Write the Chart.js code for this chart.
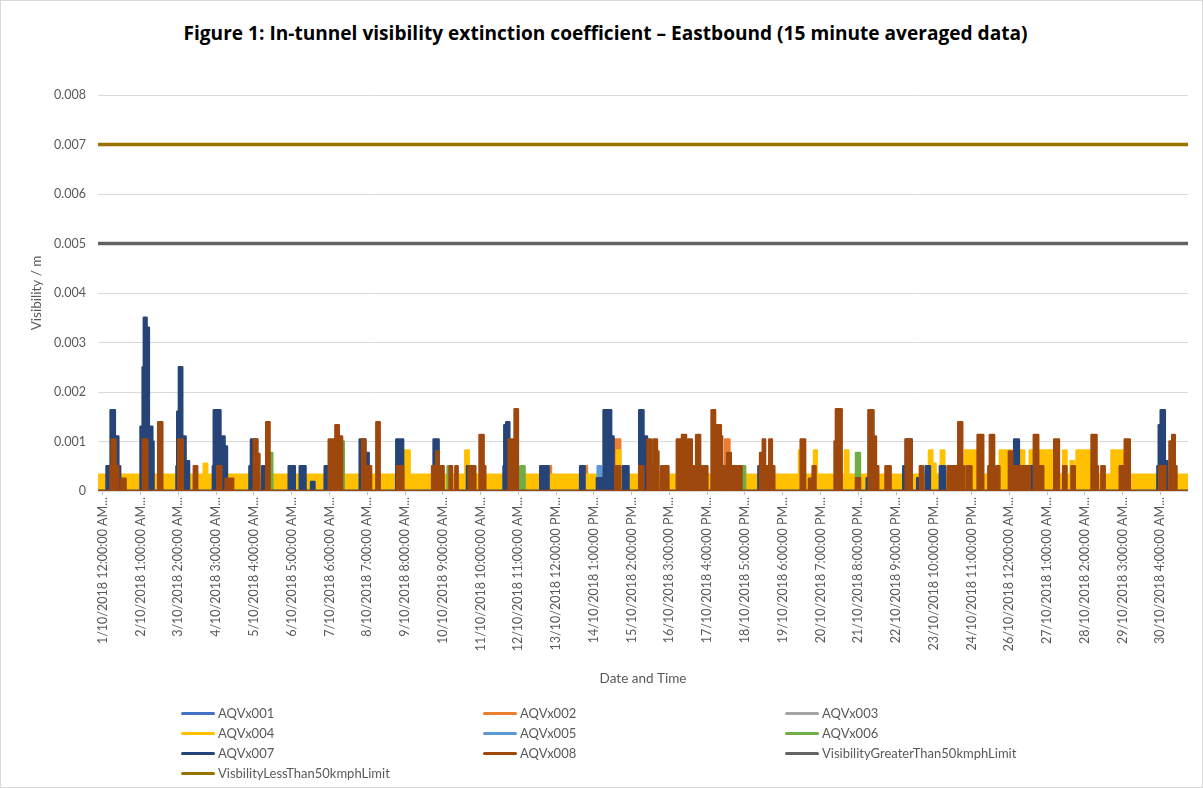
<!DOCTYPE html>
<html>
<head>
<meta charset="utf-8">
<title>In-tunnel visibility extinction coefficient - Eastbound</title>
<script src="https://cdn.jsdelivr.net/npm/chart.js@4.4.0/dist/chart.umd.min.js"></script>
<style>
  html, body { margin: 0; padding: 0; background: #fff; }
  .wrap { position: relative; width: 1203px; height: 788px; box-sizing: border-box; border: 1px solid #D9D9D9; }
  .wrap canvas { position: absolute; left: 0; top: 0; }
  .title { position: absolute; left: 8px; right: 0; top: 19px; text-align: center;
    font: bold 19.1px "Open Sans", Lato, sans-serif; color: #000; }
  .legend { position: absolute; left: 180px; top: 702px; display: grid;
    grid-template-columns: 302px 302px 302px; grid-auto-rows: 20px;
    font: 13px Lato, "Open Sans", sans-serif; color: #595959; }
  .legend div { display: flex; align-items: center; }
  .legend span.swatch { display: inline-block; width: 34px; height: 3px; border-radius: 2px; margin-right: 3px; }
</style>
</head>
<body>
<div class="wrap">
  <div class="title">Figure 1: In-tunnel visibility extinction coefficient – Eastbound (15 minute averaged data)</div>
  <canvas id="chart"></canvas>
  <div class="legend" id="legend"></div>
</div>
<script>
// x values are hours since 1/10/2018 12:00 AM, y values are extinction coefficient (1/m)
const xStart = -3.25;
const xEnd = 718.25;

const tickHours = [0, 25, 50, 75, 100, 125, 150, 175, 200, 225, 250, 275, 300, 325, 350,
  375, 400, 425, 450, 475, 500, 525, 550, 575, 600, 625, 650, 675, 700];
const tickLabels = [
  "1/10/2018 12:00:00 AM...", "2/10/2018 1:00:00 AM...", "3/10/2018 2:00:00 AM...",
  "4/10/2018 3:00:00 AM...", "5/10/2018 4:00:00 AM...", "6/10/2018 5:00:00 AM...",
  "7/10/2018 6:00:00 AM...", "8/10/2018 7:00:00 AM...", "9/10/2018 8:00:00 AM...",
  "10/10/2018 9:00:00 AM...", "11/10/2018 10:00:00 AM...", "12/10/2018 11:00:00 AM...",
  "13/10/2018 12:00:00 PM...", "14/10/2018 1:00:00 PM...", "15/10/2018 2:00:00 PM...",
  "16/10/2018 3:00:00 PM...", "17/10/2018 4:00:00 PM...", "18/10/2018 5:00:00 PM...",
  "19/10/2018 6:00:00 PM...", "20/10/2018 7:00:00 PM...", "21/10/2018 8:00:00 PM...",
  "22/10/2018 9:00:00 PM...", "23/10/2018 10:00:00 PM...", "24/10/2018 11:00:00 PM...",
  "26/10/2018 12:00:00 AM...", "27/10/2018 1:00:00 AM...", "28/10/2018 2:00:00 AM...",
  "29/10/2018 3:00:00 AM...", "30/10/2018 4:00:00 AM..."
];
const yTicks = [0, 0.001, 0.002, 0.003, 0.004, 0.005, 0.006, 0.007, 0.008];
const yTickLabels = ["0", "0.001", "0.002", "0.003", "0.004", "0.005", "0.006", "0.007", "0.008"];

// [hour, value] - each value holds until the next listed hour
const aqvx001 = [[-3.25, 0], [718.25, 0]];
const aqvx002 = [[-3.25, 0], [295.0, 0.0005], [296.6, 0], [318.8, 0.0005], [320.4, 0],
  [338.7, 0.00104], [342.4, 0], [396.4, 0.0005], [397.5, 0], [411.9, 0.00104], [414.7, 0], [718.25, 0]];
const aqvx003 = [[-3.25, 0], [718.25, 0]];
const aqvx004 = [
  [-3.25, 0.00033], [66.8, 0.00055], [69.0, 0.00033],
  [198.7, 0.00082], [203.0, 0.00033], [239.9, 0.00082], [242.1, 0.00033],
  [340.2, 0.00082], [342.4, 0.00033], [460.8, 0.00082], [462.6, 0.00033],
  [470.7, 0.00082], [472.5, 0.00033], [491.2, 0.00082], [493.4, 0.00033],
  [546.8, 0.00082], [549.0, 0.00055], [551.2, 0.00033], [554.7, 0.00082], [556.9, 0.00033],
  [570.6, 0.00082], [578.3, 0.00033], [593.7, 0.00082], [601.5, 0.00033],
  [607.4, 0.00082], [609.8, 0.00033], [613.5, 0.00082], [629.0, 0.00033],
  [635.6, 0.00082], [637.8, 0.00033], [640.5, 0.0006], [642.7, 0.00033],
  [644.5, 0.00082], [654.4, 0.00033], [667.6, 0.00082], [673.1, 0.00033],
  [674.2, 0.00082], [676.0, 0.00033], [718.25, 0.00033]
];
const aqvx005 = [[-3.25, 0], [327.5, 0.0005], [329.8, 0], [718.25, 0]];
const aqvx006 = [[-3.25, 0], [110.3, 0.00077], [112.1, 0], [158.3, 0.001], [159.4, 0],
  [228.2, 0.0005], [229.5, 0], [276.3, 0.0005], [279.1, 0], [422.9, 0.0005], [425.1, 0],
  [498.5, 0.00077], [501.1, 0], [718.25, 0]];
const aqvx007 = [
  [-3.25, 0], [2.4, 0.0005], [5.1, 0.00163], [7.9, 0.0011], [10.2, 0.0005], [11.4, 0],
  [24.9, 0.0013], [26.3, 0.0025], [27.1, 0.0035], [28.9, 0.0033], [30.4, 0.0013], [32.7, 0.001], [33.5, 0],
  [48.7, 0.0005], [49.2, 0.0016], [50.3, 0.0025], [52.5, 0.0011], [54.7, 0.0006], [57.0, 0],
  [72.8, 0.0005], [73.4, 0.00163], [77.8, 0.0011], [80.5, 0.0009], [82.1, 0],
  [97.0, 0.0005], [98.0, 0.00104], [102.1, 0], [105.4, 0.0005], [107.6, 0],
  [123.0, 0.0005], [127.0, 0], [130.3, 0.0005], [134.1, 0], [137.8, 0.00018], [140.0, 0],
  [146.8, 0.0005], [149.1, 0], [170.0, 0.00104], [173.7, 0.00077], [175.9, 0],
  [194.2, 0.00104], [198.7, 0], [218.9, 0.00104], [222.2, 0.0005], [223.3, 0],
  [241.0, 0.0005], [244.3, 0],
  [265.2, 0.0005], [265.7, 0.00133], [267.0, 0.00139], [269.0, 0.001], [269.6, 0],
  [289.5, 0.0005], [295.0, 0], [315.9, 0.0005], [318.8, 0],
  [327.0, 0.00026], [331.4, 0.00163], [336.4, 0.0011], [338.0, 0],
  [344.2, 0.0005], [347.9, 0], [355.0, 0.00163], [357.8, 0.0011], [360.1, 0],
  [433.9, 0.0005], [435.3, 0], [505.6, 0.00026], [506.9, 0.00163], [509.9, 0],
  [529.8, 0.0005], [531.4, 0.00104], [535.3, 0], [539.0, 0.00026], [540.8, 0],
  [544.6, 0.0005], [547.4, 0], [554.0, 0.0005], [557.3, 0],
  [603.2, 0.00104], [606.3, 0], [612.4, 0.0005], [615.8, 0],
  [698.0, 0.0005], [698.9, 0.00133], [700.2, 0.00163], [702.9, 0.0006], [704.6, 0],
  [718.25, 0]
];
const aqvx008 = [
  [-3.25, 0], [5.1, 0.0005], [5.8, 0.00104], [8.4, 0.0005], [10.2, 0],
  [12.2, 0.00025], [15.0, 0], [26.5, 0.00104], [29.4, 0], [36.6, 0.00139], [39.3, 0],
  [49.9, 0.00104], [52.9, 0], [60.2, 0.0005], [62.4, 0], [75.7, 0.0005], [78.3, 0],
  [81.2, 0.00025], [83.3, 0], [84.0, 0.00025], [86.2, 0],
  [99.9, 0.00104], [102.1, 0.00075], [103.6, 0], [108.1, 0.00139], [110.3, 0],
  [149.5, 0.00104], [152.8, 0.0005], [153.9, 0.00133], [156.1, 0.0011], [158.3, 0],
  [171.6, 0.00104], [173.7, 0.0005], [177.5, 0], [181.0, 0.00139], [183.2, 0],
  [194.8, 0.0005], [198.7, 0],
  [217.9, 0.0005], [220.7, 0.0008], [222.2, 0.0005], [225.5, 0],
  [229.5, 0.0005], [231.1, 0], [233.3, 0.0005], [234.8, 0], [242.1, 0.0005], [246.5, 0],
  [249.3, 0.00113], [252.0, 0.0005], [253.1, 0],
  [268.5, 0.00104], [272.5, 0.00165], [274.7, 0],
  [339.1, 0.0005], [342.4, 0],
  [355.0, 0.0005], [357.8, 0], [360.5, 0.00104], [362.7, 0.0005], [364.4, 0.00104], [366.7, 0.0008], [367.7, 0],
  [369.5, 0.0005], [374.3, 0],
  [379.9, 0.00104], [382.4, 0.0005], [383.3, 0.00113], [386.0, 0.0005], [387.6, 0.00104], [389.8, 0.0005],
  [391.4, 0], [392.7, 0.00113], [395.3, 0.0005], [396.4, 0], [397.9, 0.0005], [400.1, 0],
  [402.9, 0.00163], [405.2, 0.0011], [406.2, 0.00133], [409.0, 0.0011], [409.9, 0.0005],
  [413.2, 0.00077], [415.6, 0.0005], [422.7, 0],
  [435.0, 0.00077], [436.8, 0.00104], [438.3, 0.0005], [441.1, 0.00104], [442.8, 0.0005], [444.4, 0],
  [461.9, 0.00104], [464.8, 0], [467.4, 0.00025], [469.8, 0.0005], [471.7, 0],
  [484.3, 0.001], [485.2, 0.00165], [489.0, 0], [498.5, 0.00026], [501.1, 0],
  [506.9, 0.00163], [509.9, 0.0011], [511.7, 0.0005], [513.2, 0],
  [518.0, 0.0005], [521.4, 0], [531.4, 0.00104], [535.3, 0], [540.8, 0.0005], [542.8, 0],
  [559.1, 0.0005], [566.2, 0.00139], [568.8, 0.0005], [569.9, 0],
  [571.7, 0.0005], [574.9, 0], [579.0, 0.00113], [582.7, 0],
  [586.1, 0.0005], [587.1, 0.00113], [589.9, 0], [591.5, 0.0005], [593.4, 0],
  [599.7, 0.0008], [601.9, 0.0005], [613.5, 0],
  [616.2, 0.00113], [619.1, 0], [620.2, 0.0005], [622.4, 0],
  [629.7, 0.00104], [632.8, 0], [635.6, 0.0005], [637.8, 0], [641.1, 0.0005], [643.3, 0],
  [654.4, 0.00113], [657.7, 0.0005], [658.6, 0], [660.9, 0.0005], [663.1, 0],
  [673.1, 0.0005], [676.4, 0.00104], [679.7, 0],
  [699.2, 0.0005], [703.3, 0],
  [706.0, 0.001], [707.8, 0.00113], [709.5, 0.0005], [710.6, 0],
  [718.25, 0]
];
const greaterThan50Limit = [[-3.25, 0.005], [718.25, 0.005]];
const lessThan50Limit = [[-3.25, 0.007], [718.25, 0.007]];

const seriesNames = ["AQVx001", "AQVx002", "AQVx003", "AQVx004", "AQVx005", "AQVx006",
  "AQVx007", "AQVx008", "VisibilityGreaterThan50kmphLimit", "VisbilityLessThan50kmphLimit"];
const seriesData = [aqvx001, aqvx002, aqvx003, aqvx004, aqvx005, aqvx006,
  aqvx007, aqvx008, greaterThan50Limit, lessThan50Limit];
const seriesColors = ["#4472C4", "#ED7D31", "#A5A5A5", "#FFC000", "#5B9BD5", "#70AD47",
  "#264478", "#9E480E", "#636363", "#997300"];

Chart.defaults.font.family = 'Lato, "Open Sans", sans-serif';
Chart.defaults.color = '#595959';

function makeDataset(i) {
  const isLimit = i >= 8;
  return {
    label: seriesNames[i],
    data: seriesData[i].map(p => ({ x: p[0], y: p[1] })),
    borderColor: seriesColors[i],
    backgroundColor: seriesColors[i],
    borderWidth: isLimit ? 3.5 : 2.5,
    borderJoinStyle: 'round',
    borderCapStyle: 'round',
    stepped: isLimit ? false : 'before',
    fill: isLimit ? false : 'origin',
    pointRadius: 0,
    // later series sit on top, like the original
    order: 10 - i
  };
}

const datasets = [];
for (let i = 0; i < seriesNames.length; i++) {
  datasets.push(makeDataset(i));
}

const chart = new Chart(document.getElementById('chart'), {
  type: 'line',
  data: { datasets: datasets },
  options: {
    responsive: true,
    maintainAspectRatio: false,
    animation: false,
    layout: { padding: { top: 94, right: 14, bottom: 100, left: 0 } },
    plugins: {
      legend: { display: false },
      tooltip: { enabled: false }
    },
    scales: {
      x: {
        type: 'linear',
        min: xStart,
        max: xEnd,
        afterBuildTicks: function(scale) {
          scale.ticks = tickHours.map(v => ({ value: v }));
        },
        afterFit: function(scale) {
          scale.height = 196;
        },
        ticks: {
          autoSkip: false,
          maxRotation: 90,
          minRotation: 90,
          padding: 2,
          color: '#595959',
          font: { size: 12.5 },
          callback: function(value) {
            const k = tickHours.indexOf(value);
            return k >= 0 ? tickLabels[k] : '';
          }
        },
        grid: { drawOnChartArea: false, drawTicks: true, tickLength: 4, color: '#BFBFBF' },
        border: { display: true, color: '#D9D9D9' },
        title: {
          display: true,
          text: 'Date and Time',
          color: '#595959',
          font: { size: 13.5 },
          padding: { top: 0, bottom: 0 }
        }
      },
      y: {
        min: 0,
        max: 0.008,
        afterBuildTicks: function(scale) {
          scale.ticks = yTicks.map(v => ({ value: v }));
        },
        afterFit: function(scale) {
          scale.width = 97;
        },
        ticks: {
          padding: 12,
          color: '#595959',
          font: { size: 12.5 },
          callback: function(value) {
            const k = yTicks.indexOf(value);
            return k >= 0 ? yTickLabels[k] : '';
          }
        },
        grid: { color: '#D9D9D9', lineWidth: 1, drawTicks: false },
        border: { display: false },
        title: {
          display: true,
          text: 'Visibility / m',
          color: '#595959',
          font: { size: 13.5 },
          padding: { top: 28, bottom: 0 }
        }
      }
    }
  }
});

// legend laid out in three columns like the original
const legendBox = document.getElementById('legend');
chart.data.datasets.forEach(ds => {
  const item = document.createElement('div');
  const swatch = document.createElement('span');
  swatch.className = 'swatch';
  swatch.style.background = ds.borderColor;
  item.appendChild(swatch);
  item.appendChild(document.createTextNode(ds.label));
  legendBox.appendChild(item);
});
</script>
</body>
</html>
